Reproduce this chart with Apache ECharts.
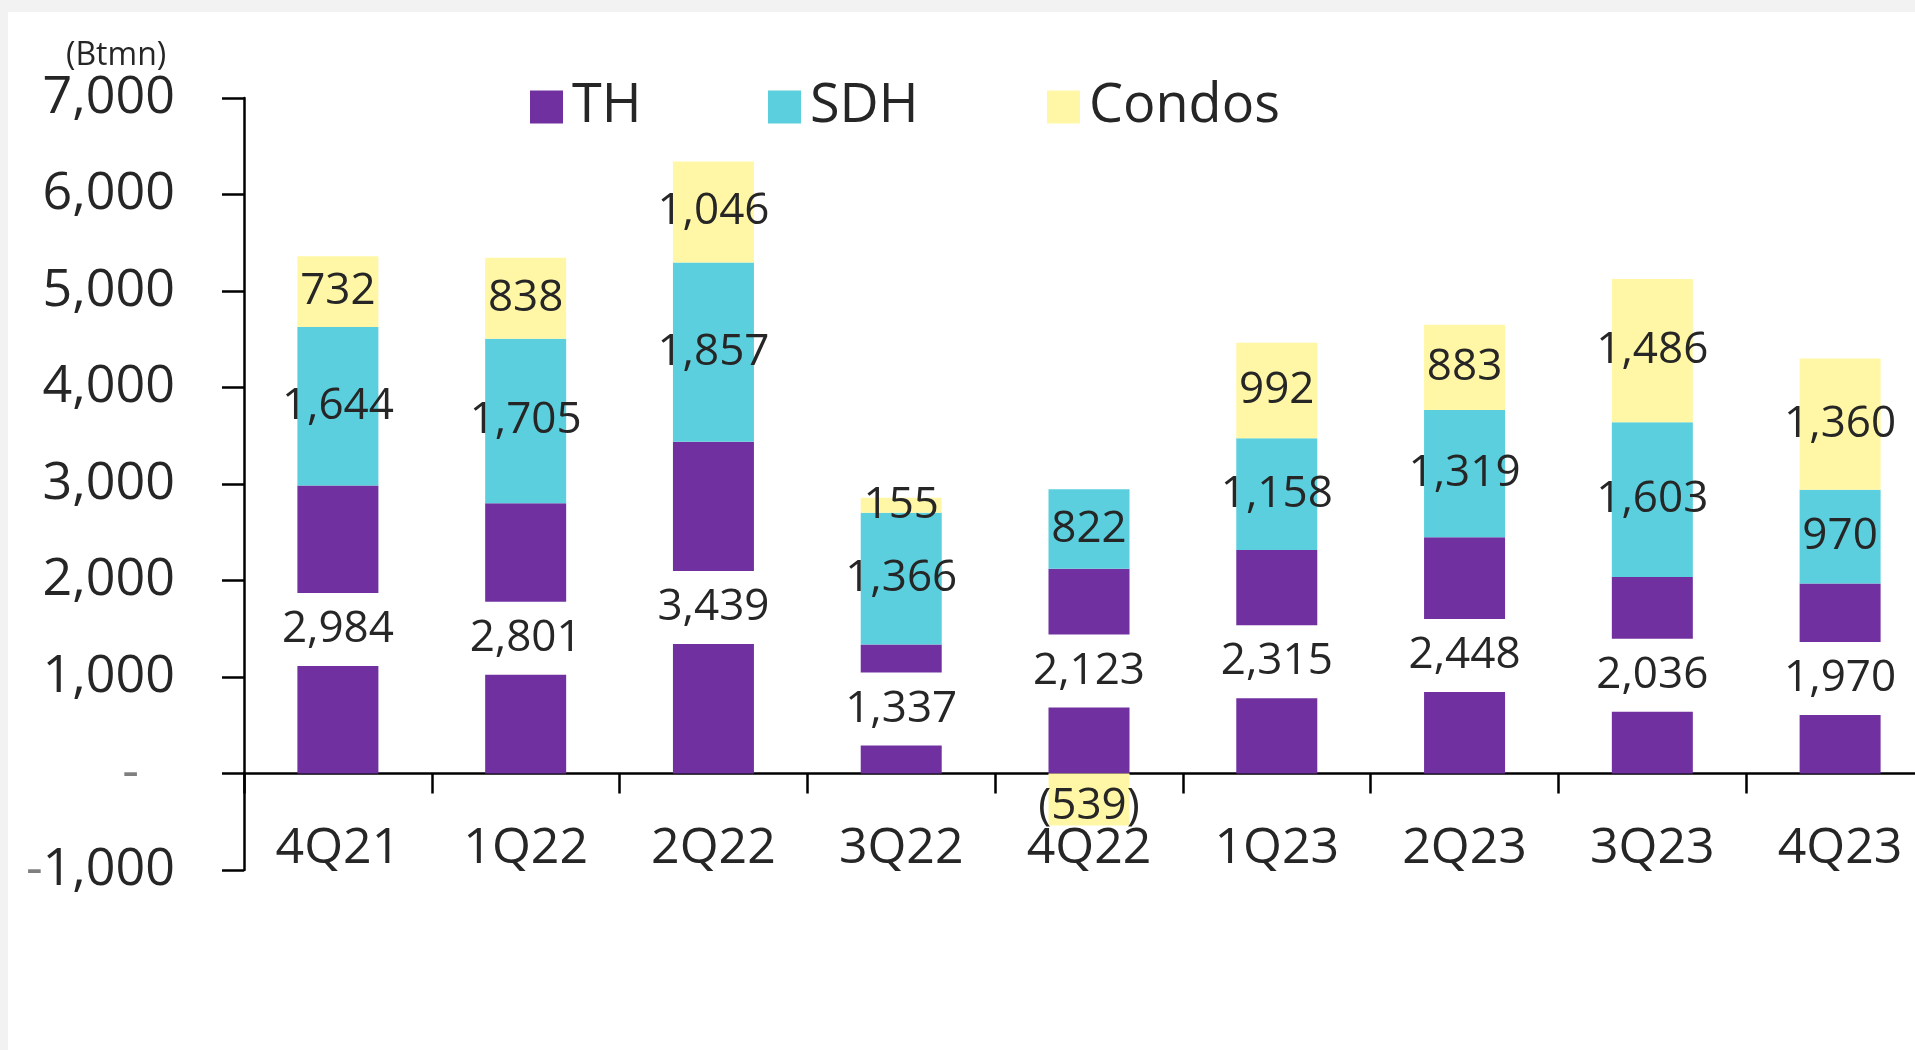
<!DOCTYPE html>
<html>
<head>
<meta charset="utf-8">
<script src="https://cdn.jsdelivr.net/npm/echarts@6/dist/echarts.min.js"></script>
<style>
  html, body { margin: 0; padding: 0; background: #f2f2f2; overflow: hidden; }
  /* the plot runs a little past the right edge in the original, so the canvas is wider than the window */
  #main { position: absolute; left: 8px; top: 12px; width: 1932px; height: 1038px; background: #fff; }
</style>
</head>
<body>
<div id="main"></div>
<script>
// quarters on the x axis
var quarters = ['4Q21', '1Q22', '2Q22', '3Q22', '4Q22', '1Q23', '2Q23', '3Q23', '4Q23'];
// presales by product (Btmn)
var thData = [2984, 2801, 3439, 1337, 2123, 2315, 2448, 2036, 1970];
var sdhData = [1644, 1705, 1857, 1366, 822, 1158, 1319, 1603, 970];
var condoData = [732, 838, 1046, 155, -539, 992, 883, 1486, 1360];
// y axis range
var yMin = -1000;
var yMax = 7000;
var yStep = 1000;

var txt = '#262626';
var font = '"Open Sans", sans-serif';
var plotH = 772;

// 1,234 style, negatives in brackets
function fmt(v) {
  var s = Math.abs(v).toLocaleString('en-US');
  return v < 0 ? '(' + s + ')' : s;
}

var chart = echarts.init(document.getElementById('main'));

var labelBase = {
  show: true,
  position: 'inside',
  color: txt,
  fontFamily: font,
  fontSize: 44,
  formatter: function (p) { return fmt(p.value); }
};

// one legend block per series so each sits where the original has it
function legendAt(name, left) {
  return {
    left: left,
    top: 63,
    icon: 'rect',
    itemWidth: 33,
    itemHeight: 33,
    textStyle: { fontFamily: font, fontSize: 54, lineHeight: 54, color: txt, padding: [0, 0, 0, 4] },
    data: [name]
  };
}

// negative condo value: its label sits a bit lower
var condoItems = condoData.map(function (v) {
  return v < 0 ? { value: v, label: { offset: [0, 7] } } : v;
});

var option = {
  animation: false,
  textStyle: { fontFamily: font },
  title: {
    text: '(Btmn)',
    left: 53,
    top: 23,
    textStyle: { fontFamily: font, fontSize: 32, fontWeight: 'normal', color: txt }
  },
  legend: [legendAt('TH', 517), legendAt('SDH', 755), legendAt('Condos', 1034)],
  grid: { left: 236, top: 86, width: 1690, height: plotH },
  xAxis: {
    type: 'category',
    data: quarters,
    // move the axis up to the zero level
    offset: -plotH * (0 - yMin) / (yMax - yMin),
    axisLine: { show: true, onZero: false, lineStyle: { color: '#000', width: 2.5 } },
    axisTick: { show: true, interval: 0, length: 20, lineStyle: { color: '#000', width: 2.5 } },
    axisLabel: { margin: 50, fontSize: 50, lineHeight: 50, color: txt, fontFamily: font }
  },
  yAxis: {
    type: 'value',
    min: yMin,
    max: yMax,
    interval: yStep,
    splitLine: { show: false },
    axisLine: { show: true, lineStyle: { color: '#000', width: 2.5 } },
    axisTick: { show: true, length: 22, lineStyle: { color: '#000', width: 2.5 } },
    axisLabel: {
      margin: 69,
      fontSize: 52,
      color: txt,
      fontFamily: font,
      formatter: function (v) {
        if (v === 0) return '{dash|-}';
        if (v < 0) return '{dm|-}' + Math.abs(v).toLocaleString('en-US');
        return v.toLocaleString('en-US');
      },
      rich: {
        dash: { color: '#7f7f7f', fontSize: 52, fontFamily: font, padding: [0, 36, 0, 0] },
        dm: { color: '#7f7f7f', fontSize: 52, fontFamily: font }
      }
    }
  },
  series: [
    {
      name: 'TH',
      type: 'bar',
      stack: 'all',
      barWidth: 81,
      data: thData,
      itemStyle: { color: '#7030A0' },
      label: Object.assign({}, labelBase, {
        backgroundColor: '#fff',
        lineHeight: 43,
        padding: [15, 4]
      })
    },
    {
      name: 'SDH',
      type: 'bar',
      stack: 'all',
      barWidth: 81,
      data: sdhData,
      itemStyle: { color: '#5BCFDE' },
      label: labelBase
    },
    {
      name: 'Condos',
      type: 'bar',
      stack: 'all',
      barWidth: 81,
      data: condoItems,
      itemStyle: { color: '#FFF7A5' },
      label: labelBase
    }
  ]
};

chart.setOption(option);
window.addEventListener('resize', function () { chart.resize(); });
</script>
</body>
</html>
